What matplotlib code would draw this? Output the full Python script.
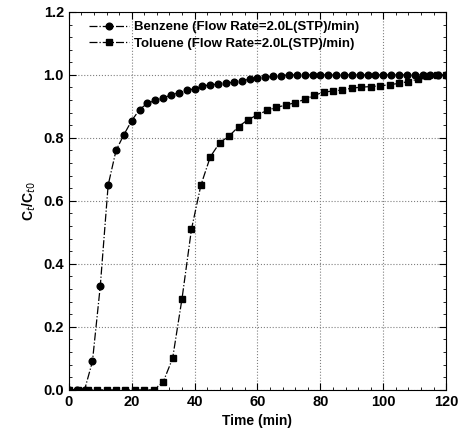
import numpy as np
import matplotlib.pyplot as plt
from matplotlib.ticker import MultipleLocator

# benzene sampled every 2.5 min
t_benz = np.arange(0, 120.1, 2.5)
c_benz = [0.0, 0.0, 0.0, 0.09, 0.33, 0.65, 0.76, 0.81, 0.855, 0.89,
          0.91, 0.919, 0.926, 0.937, 0.943, 0.951, 0.956, 0.965, 0.968, 0.971,
          0.974, 0.977, 0.982, 0.986, 0.989, 0.993, 0.995, 0.998, 1.0, 1.0,
          1.0, 1.0, 1.0, 1.0, 1.0, 1.0, 1.0, 1.0, 1.0, 1.0,
          1.0, 1.0, 1.0, 1.0, 1.0, 1.0, 1.0, 1.0, 1.0]

# toluene sampled every 3 min
t_tol = np.arange(0, 120.1, 3)
c_tol = [0.0, 0.0, 0.0, 0.0, 0.0, 0.0, 0.0, 0.0, 0.0, 0.0,
         0.025, 0.10, 0.29, 0.51, 0.65, 0.74, 0.785, 0.806, 0.836, 0.858,
         0.873, 0.887, 0.897, 0.904, 0.912, 0.922, 0.935, 0.945, 0.949, 0.952,
         0.958, 0.961, 0.963, 0.965, 0.969, 0.973, 0.979, 0.986, 0.995, 0.999, 1.0]

plt.rcParams['font.family'] = ['Liberation Sans', 'DejaVu Sans']

fig = plt.figure(figsize=(4.59, 4.41), dpi=100)
ax = fig.add_axes([0.150, 0.116, 0.822, 0.857])

ax.plot(t_benz, c_benz, color='black', lw=0.9, ls='-.', marker='o', ms=4.8,
        label='Benzene (Flow Rate=2.0L(STP)/min)')
ax.plot(t_tol, c_tol, color='black', lw=0.9, ls='-.', marker='s', ms=5,
        label='Toluene (Flow Rate=2.0L(STP)/min)')

ax.set_xlim(0, 120)
ax.set_ylim(0, 1.2)
ax.xaxis.set_major_locator(MultipleLocator(20))
ax.xaxis.set_minor_locator(MultipleLocator(4))
ax.yaxis.set_major_locator(MultipleLocator(0.2))
ax.yaxis.set_minor_locator(MultipleLocator(0.04))
ax.yaxis.set_major_formatter(plt.FormatStrFormatter('%.1f'))
ax.tick_params(which='both', direction='in', top=True, right=True, labelsize=10.5)
ax.tick_params(which='major', length=5)
ax.tick_params(which='minor', length=2.5)
for lab in ax.get_xticklabels() + ax.get_yticklabels():
    lab.set_fontweight('bold')
ax.grid(True, ls=':', color='gray', lw=0.8)

ax.set_xlabel('Time (min)', fontsize=10, fontweight='bold')
ax.set_ylabel('C$_t$/C$_{t0}$', fontsize=10, fontweight='bold')

leg = ax.legend(loc='upper left', bbox_to_anchor=(0.03, 1.0), frameon=False,
                fontsize=9.5, handlelength=3.0, handletextpad=0.4,
                borderaxespad=0.3, labelspacing=0.3)
for txt in leg.get_texts():
    txt.set_fontweight('bold')

fig.savefig('out.png', dpi=100)
